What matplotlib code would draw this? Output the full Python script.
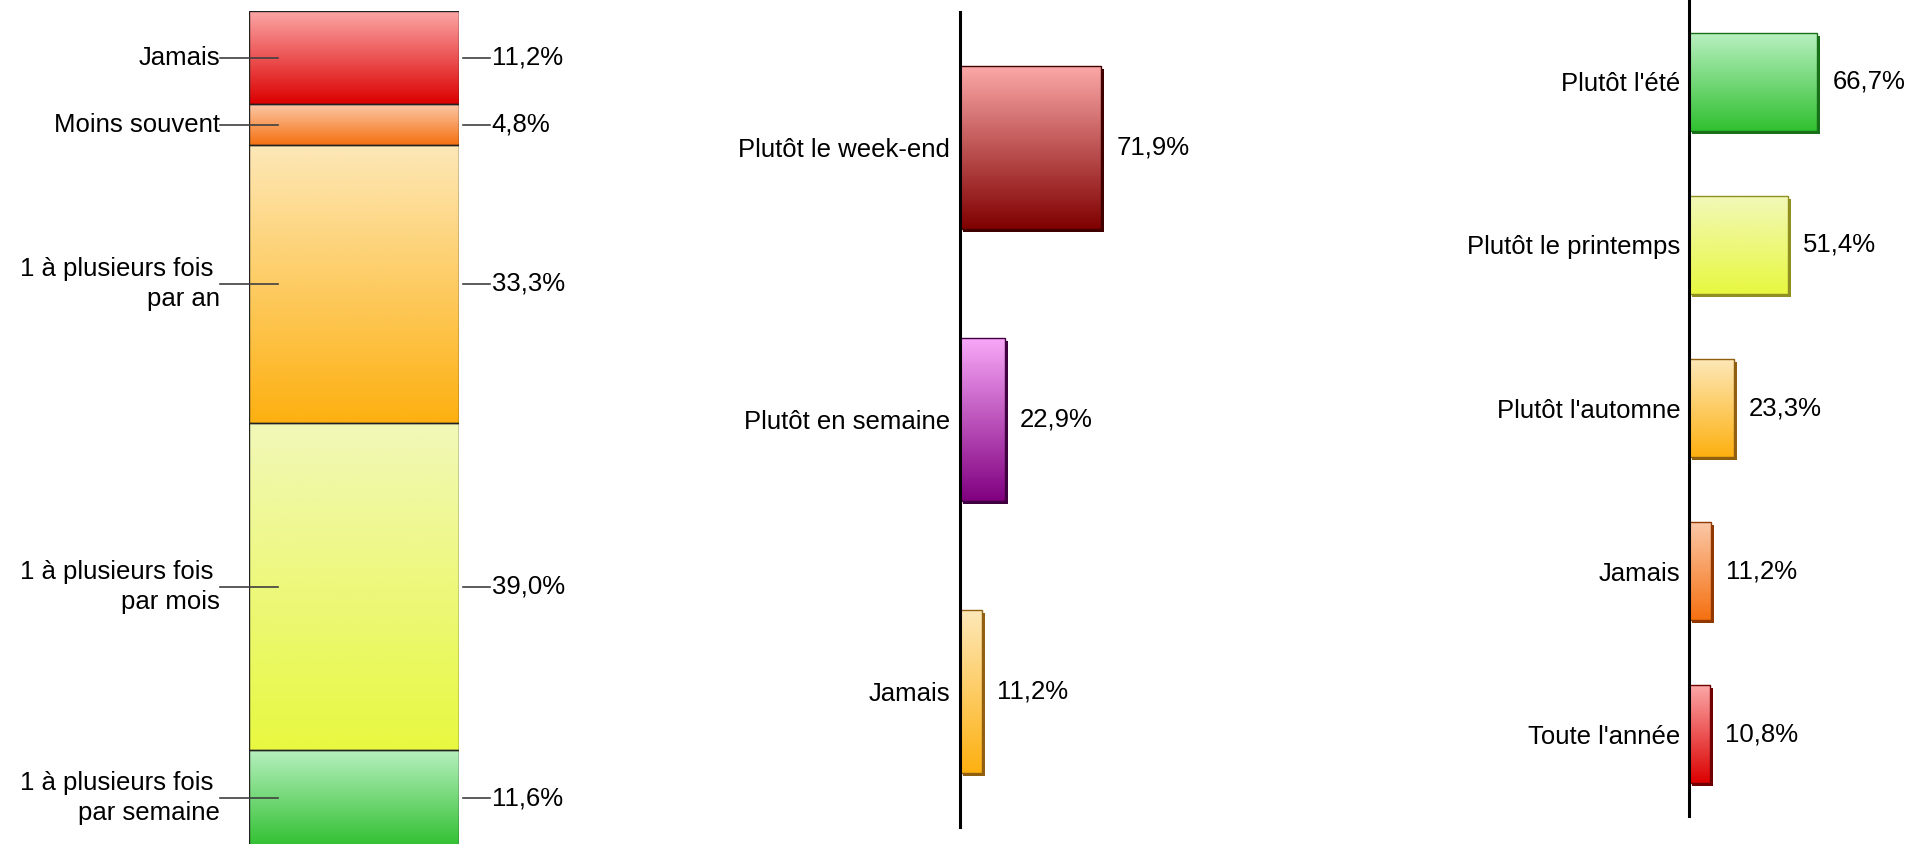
import numpy as np
import matplotlib
matplotlib.use("Agg")
import matplotlib.pyplot as plt
from matplotlib.colors import to_rgb
from matplotlib.transforms import ScaledTranslation

plt.rcParams['font.family'] = ['Liberation Sans', 'DejaVu Sans']

# fréquence (barre empilée)
freq_labels = ["Jamais", "Moins souvent", "1 à plusieurs fois \npar an",
               "1 à plusieurs fois \npar mois", "1 à plusieurs fois \npar semaine"]
freq_values = [11.2, 4.8, 33.3, 39.0, 11.6]
freq_top = ["#fca8a8", "#fbc8a8", "#fde8b8", "#f2f8b8", "#b8f0c0"]
freq_bottom = ["#dc0000", "#f57010", "#fdb010", "#e8f840", "#30c030"]

# moment de la semaine
week_labels = ["Plutôt le week-end", "Plutôt en semaine", "Jamais"]
week_values = [71.9, 22.9, 11.2]
week_top = ["#fca8a8", "#f8a8f8", "#fde8b8"]
week_bottom = ["#800000", "#800080", "#fdb010"]
week_shadow = ["#400000", "#400040", "#906010"]

# saison
season_labels = ["Plutôt l'été", "Plutôt le printemps", "Plutôt l'automne", "Jamais", "Toute l'année"]
season_values = [66.7, 51.4, 23.3, 11.2, 10.8]
season_top = ["#b8f0c0", "#f2f8b8", "#fde8b8", "#fbc8a8", "#fca8a8"]
season_bottom = ["#30c030", "#e8f840", "#fdb010", "#f57010", "#dc0000"]
season_shadow = ["#187018", "#909020", "#906010", "#903800", "#700000"]

FS = 18.5
W, H = 1913, 844
fig = plt.figure(figsize=(W / 100, H / 100), dpi=100)


def px_axes(l, t, w, h):
    return fig.add_axes([l / W, 1 - (t + h) / H, w / W, h / H])


def fmt(v):
    return ("%.1f%%" % v).replace(".", ",")


def gradient_fill(ax, patch, top, bottom):
    x0, y0 = patch.get_x(), patch.get_y()
    w, h = patch.get_width(), patch.get_height()
    c = np.linspace(0, 1, 256)[:, None]
    img = np.array(to_rgb(top)) * (1 - c) + np.array(to_rgb(bottom)) * c
    img = img.reshape(256, 1, 3)
    ya, yb = min(y0, y0 + h), max(y0, y0 + h)
    im = ax.imshow(img, extent=(x0, x0 + w, yb, ya), origin='upper',
                   aspect='auto', interpolation='bilinear', zorder=2)
    im.set_clip_path(patch)
    patch.set_facecolor('none')
    patch.set_zorder(3)


# ---- gauche : barre empilée
ax1 = px_axes(249, 10.7, 210, 837)
cum = np.concatenate([[0], np.cumsum(freq_values)[:-1]])
bars = ax1.bar(0, freq_values, bottom=cum, width=1, align='edge',
               edgecolor='#222222', linewidth=1.0)
for b, t, bt in zip(bars, freq_top, freq_bottom):
    gradient_fill(ax1, b, t, bt)
ax1.set_xlim(0, 1)
ax1.set_ylim(100, 0)
ax1.axis('off')
for lab, v, c in zip(freq_labels, freq_values, cum):
    yc = c + v / 2
    ax1.plot([-0.138, 0.138], [yc, yc], color='#404040', lw=1.2, clip_on=False, zorder=4)
    ax1.text(-0.138, yc, lab, ha='right', va='center', fontsize=FS,
             multialignment='right', linespacing=1.32)
    ax1.plot([1.02, 1.148], [yc, yc], color='#404040', lw=1.2, clip_on=False, zorder=4)
    ax1.text(1.155, yc, fmt(v), ha='left', va='center', fontsize=FS)


def hbar_chart(ax, labels, values, tops, bottoms, shadows, label_pad):
    pos = np.arange(len(values))
    shift = ax.transData + ScaledTranslation(0.03, -0.03, fig.dpi_scale_trans)
    ax.barh(pos, values, height=0.6, color=shadows, transform=shift, zorder=1)
    bars = ax.barh(pos, values, height=0.6, edgecolor=shadows, linewidth=1.0)
    for b, t, bt in zip(bars, tops, bottoms):
        gradient_fill(ax, b, t, bt)
    ax.set_xlim(0, 100)
    ax.set_ylim(len(values) - 0.5, -0.5)
    ax.set_yticks(pos)
    ax.set_yticklabels(labels, fontsize=FS)
    ax.tick_params(axis='y', length=0, pad=label_pad)
    ax.set_xticks([])
    for s in ['top', 'right', 'bottom']:
        ax.spines[s].set_visible(False)
    ax.spines['left'].set_linewidth(2.2)
    ax.spines['left'].set_zorder(5)
    ax.patch.set_alpha(0)
    for p, v in zip(pos, values):
        ax.annotate(fmt(v), (v, p), xytext=(11, 0), textcoords='offset points',
                    ha='left', va='center', fontsize=FS)


# ---- milieu
ax2 = px_axes(960, 12, 196, 815)
hbar_chart(ax2, week_labels, week_values, week_top, week_bottom, week_shadow, 7)

# ---- droite
ax3 = px_axes(1689, 0, 192, 816)
hbar_chart(ax3, season_labels, season_values, season_top, season_bottom, season_shadow, 6)

fig.savefig("out.png", dpi=100)
